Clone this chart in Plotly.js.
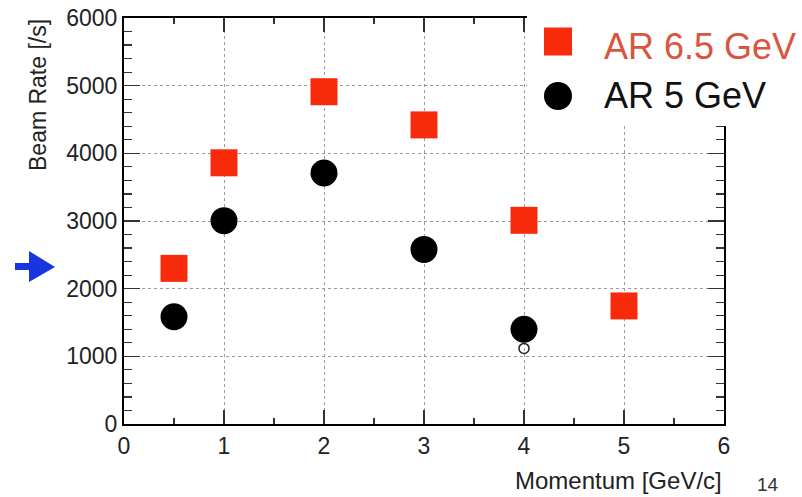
<!DOCTYPE html>
<html>
<head>
<meta charset="utf-8">
<script src="https://cdn.plot.ly/plotly-3.0.1.min.js"></script>
<style>html,body{margin:0;padding:0;background:#fff;}#chart{width:802px;height:497px;}</style>
</head>
<body>
<div id="chart"></div>
<script>
// Data
var momentum65 = [0.5, 1, 2, 3, 4, 5];
var rate65 = [2300, 3860, 4910, 4420, 3010, 1745];
var momentum5 = [0.5, 1, 2, 3, 4];
var rate5 = [1585, 3005, 3710, 2580, 1400];
var momentumOpen = [4];
var rateOpen = [1117];
var seriesNames = ['AR 6.5 GeV', 'AR 5 GeV'];
var xTitle = 'Momentum [GeV/c]';
var yTitle = 'Beam Rate [/s]';
var pageNumber = '14';

var RED = '#f82a0c';
var FONT = 'Liberation Sans, Arial, Helvetica, sans-serif';

function px2x(p){ return (p - 124) / 600; }
function py2y(p){ return (424 - p) / 406; }

var traces = [
  {x: momentum65, y: rate65, type: 'scatter', mode: 'markers', name: seriesNames[0],
   marker: {symbol: 'square', size: 27, color: RED, line: {width: 0}}, showlegend: false},
  {x: momentum5, y: rate5, type: 'scatter', mode: 'markers', name: seriesNames[1],
   marker: {symbol: 'circle', size: 27, color: '#000', line: {width: 0}}, showlegend: false},
  {x: momentumOpen, y: rateOpen, type: 'scatter', mode: 'markers', name: 'open',
   marker: {symbol: 'circle-open', size: 10, color: '#222', line: {width: 1.5}}, showlegend: false}
];

var axisCommon = {
  showline: true, linecolor: '#000', linewidth: 2, mirror: 'ticks',
  ticks: 'inside', tickcolor: '#333', tickwidth: 1.5,
  showgrid: true, gridcolor: '#9a9a9a', griddash: 'dot', gridwidth: 1,
  zeroline: false, tickfont: {family: FONT, size: 23, color: '#222'}
};

var layout = {
  width: 802, height: 497,
  margin: {l: 124, r: 78, t: 18, b: 73, pad: 0},
  paper_bgcolor: '#fff', plot_bgcolor: '#fff',
  showlegend: false,
  xaxis: Object.assign({}, axisCommon, {
    range: [0, 6], dtick: 1, tick0: 0, ticklen: 14,
    minor: {dtick: 0.5, ticks: 'inside', ticklen: 6, tickcolor: '#333', tickwidth: 1.2, showgrid: false}
  }),
  yaxis: Object.assign({}, axisCommon, {
    range: [0, 6000], dtick: 1000, tick0: 0, ticklen: 16,
    minor: {dtick: 200, ticks: 'inside', ticklen: 8, tickcolor: '#333', tickwidth: 1.2, showgrid: false}
  }),
  shapes: [
    // white legend area covering top-right corner of frame
    {type: 'rect', xref: 'paper', yref: 'paper', x0: px2x(527), x1: 1.2, y0: py2y(126), y1: 1.1,
     fillcolor: '#fff', line: {width: 0}, layer: 'above'},
    // legend symbols
    {type: 'rect', xref: 'paper', yref: 'paper', xsizemode: 'pixel', ysizemode: 'pixel',
     xanchor: px2x(558), yanchor: py2y(41.5), x0: -14, x1: 14, y0: -14, y1: 14,
     fillcolor: RED, line: {width: 0}, layer: 'above'},
    {type: 'circle', xref: 'paper', yref: 'paper', xsizemode: 'pixel', ysizemode: 'pixel',
     xanchor: px2x(558), yanchor: py2y(96), x0: -14, x1: 14, y0: -14, y1: 14,
     fillcolor: '#000', line: {width: 0}, layer: 'above'},
    // blue arrow on the left
    {type: 'path', xref: 'paper', yref: 'paper', layer: 'above',
     path: 'M ' + px2x(15) + ',' + py2y(270) + ' L ' + px2x(29) + ',' + py2y(270) +
           ' L ' + px2x(29) + ',' + py2y(282) + ' L ' + px2x(55) + ',' + py2y(267) +
           ' L ' + px2x(29) + ',' + py2y(251) + ' L ' + px2x(29) + ',' + py2y(263) +
           ' L ' + px2x(15) + ',' + py2y(263) + ' Z',
     fillcolor: '#1836e0', line: {width: 0}}
  ],
  annotations: [
    {xref: 'paper', yref: 'paper', x: px2x(602), y: py2y(46), xanchor: 'left', yanchor: 'middle',
     text: seriesNames[0], showarrow: false, font: {family: FONT, size: 36, color: '#d9553f'}},
    {xref: 'paper', yref: 'paper', x: px2x(602), y: py2y(95), xanchor: 'left', yanchor: 'middle',
     text: seriesNames[1], showarrow: false, font: {family: FONT, size: 36, color: '#111'}},
    {xref: 'paper', yref: 'paper', x: px2x(38), y: py2y(95), xanchor: 'center', yanchor: 'middle',
     text: yTitle, textangle: -90, showarrow: false, font: {family: FONT, size: 23, color: '#222'}},
    {xref: 'paper', yref: 'paper', x: px2x(724), y: py2y(481), xanchor: 'right', yanchor: 'middle',
     text: xTitle, showarrow: false, font: {family: FONT, size: 24, color: '#222'}},
    {xref: 'paper', yref: 'paper', x: px2x(768), y: py2y(484), xanchor: 'center', yanchor: 'middle',
     text: pageNumber, showarrow: false, font: {family: FONT, size: 19, color: '#333'}}
  ]
};

Plotly.newPlot('chart', traces, layout, {displayModeBar: false, staticPlot: true});
</script>
</body>
</html>
